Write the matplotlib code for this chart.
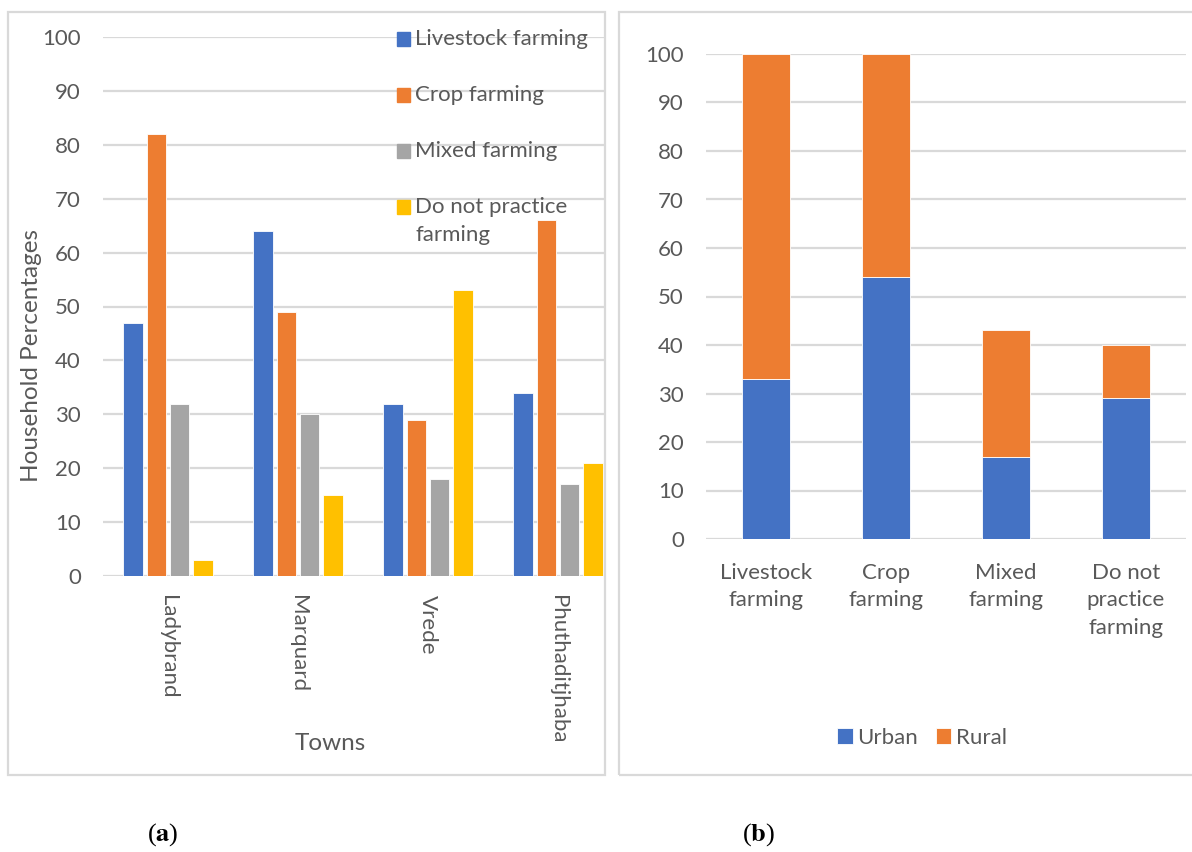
import numpy as np
import matplotlib
matplotlib.use("Agg")
import matplotlib.pyplot as plt
from matplotlib.patches import Rectangle

# ---------------- data ----------------
towns = ["Ladybrand", "Marquard", "Vrede", "Phuthaditjhaba"]
series_a = ["Livestock farming", "Crop farming", "Mixed farming", "Do not practice farming"]
livestock = [47, 64, 32, 34]
crop = [82, 49, 29, 66]
mixed = [32, 30, 18, 17]
no_farming = [3, 15, 53, 21]

types_b = ["Livestock\nfarming", "Crop\nfarming", "Mixed\nfarming", "Do not\npractice\nfarming"]
urban = [33, 54, 17, 29]
rural = [67, 46, 26, 11]
yticks = [0, 10, 20, 30, 40, 50, 60, 70, 80, 90, 100]

colors_a = ["#4472C4", "#ED7D31", "#A5A5A5", "#FFC000"]
TXT = "#595959"
GRID = "#D9D9D9"
FONT = "Lato"
FS = 16

W, H = 1192, 852
fig = plt.figure(figsize=(W / 100, H / 100), dpi=100)
plt.rcParams["font.family"] = [FONT, "DejaVu Sans"]


def px_axes(x0, y0, x1, y1):
    return fig.add_axes([x0 / W, 1 - y1 / H, (x1 - x0) / W, (y1 - y0) / H])


def style(ax):
    for s in ax.spines.values():
        s.set_visible(False)
    ax.set_ylim(0, 100)
    ax.set_yticks(yticks)
    ax.yaxis.grid(True, color=GRID, linewidth=1.6)
    ax.set_axisbelow(True)
    ax.tick_params(length=0, colors=TXT, labelsize=FS)
    ax.tick_params(axis="y", pad=16)


# panel boxes
fig.patches.append(Rectangle((8 / W, 1 - 775 / H), (605 - 8) / W, (775 - 12) / H,
                             transform=fig.transFigure, fill=False, edgecolor=GRID, linewidth=1.6))
fig.patches.append(Rectangle((619 / W, 1 - 775 / H), (1200 - 619) / W, (775 - 12) / H,
                             transform=fig.transFigure, fill=False, edgecolor=GRID, linewidth=1.6))

# ---------------- panel (a) ----------------
ax1 = px_axes(103, 37, 605, 576)
style(ax1)
x = np.arange(len(towns))
bw = 0.15
step = 0.18
vals = [livestock, crop, mixed, no_farming]
for i, (v, c) in enumerate(zip(vals, colors_a)):
    ax1.bar(x + (i - 1.5) * step, v, width=bw, color=c, edgecolor="white", linewidth=0.6, zorder=2)
ax1.axhline(0, color=GRID, linewidth=1.8, zorder=1)
ax1.set_xlim(-0.5, 3.5 - 18 / 130)
ax1.set_xticks(x)
ax1.set_xticklabels(towns, rotation=-90, va="top", ha="center")
ax1.tick_params(axis="x", pad=14)
fig.text(32 / W, 1 - 355 / H, "Household Percentages", rotation=90, ha="center", va="center",
         color=TXT, fontsize=FS + 1.5)
fig.text(330 / W, 1 - 743 / H, "Towns", ha="center", va="center", color=TXT, fontsize=FS + 1.5)

# legend (a), drawn manually
leg_y = [39, 95, 151, 207]
labels_a = ["Livestock farming", "Crop farming", "Mixed farming", "Do not practice\nfarming"]
for yy, lab, c in zip(leg_y, labels_a, colors_a):
    fig.patches.append(Rectangle((397 / W, 1 - (yy + 6.5) / H), 13 / W, 13 / H,
                                 transform=fig.transFigure, color=c))
    fig.text(415 / W, 1 - (yy - 10) / H, lab, ha="left", va="top", color=TXT,
             fontsize=FS, linespacing=1.5)

# ---------------- panel (b) ----------------
ax2 = px_axes(706, 54, 1186, 539)
style(ax2)
xb = np.arange(len(types_b))
ax2.bar(xb, urban, width=0.4, color=colors_a[0], edgecolor="white", linewidth=0.6, label="Urban", zorder=2)
ax2.bar(xb, rural, width=0.4, bottom=urban, color=colors_a[1], edgecolor="white", linewidth=0.6,
        label="Rural", zorder=2)
ax2.axhline(0, color=GRID, linewidth=1.8, zorder=1)
ax2.set_xlim(-0.5, 3.5)
ax2.set_xticks(xb)
ax2.set_xticklabels(types_b, va="top", ha="center", linespacing=1.48)
ax2.tick_params(axis="x", pad=17)
leg = fig.legend(loc="center", bbox_to_anchor=(922 / W, 1 - 738 / H), ncol=2, frameon=False,
                 fontsize=FS, handlelength=0.7, handleheight=0.7, handletextpad=0.2,
                 columnspacing=0.8, labelcolor=TXT)

# panel labels
for xp, letter in [(163, "a"), (759, "b")]:
    fig.text(xp / W, 1 - 835 / H, "(" + r"$\mathbf{" + letter + "}$" + ")", ha="center", va="center",
             fontsize=19, family="Liberation Serif", math_fontfamily="stix")

fig.savefig("out.png", dpi=100)
